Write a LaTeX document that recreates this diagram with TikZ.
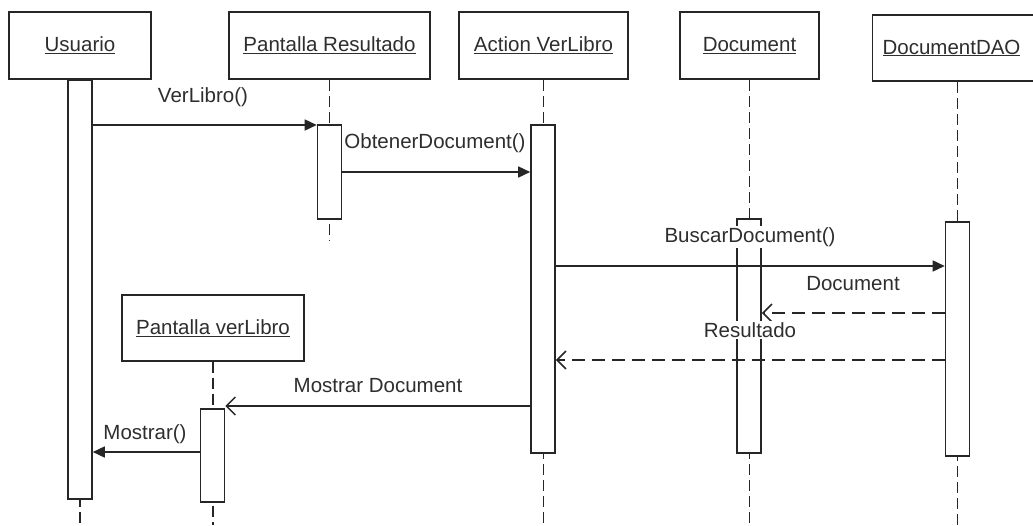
\documentclass[tikz,border=0pt]{standalone}
\usepackage{fontspec}
\setmainfont{Liberation Sans}
\usetikzlibrary{arrows.meta}
\definecolor{ink}{HTML}{262626}
\definecolor{txt}{HTML}{2E2E2E}
\begin{document}
\begin{tikzpicture}[x=1pt,y=-1pt,
  every node/.style={font=\fontsize{20.5}{24}\selectfont, text=txt},
  obj/.style={draw=ink, line width=1.6pt, fill=white, minimum height=67pt, inner sep=0pt},
  act/.style={draw=ink, line width=1.6pt, fill=white, minimum width=24pt, inner sep=0pt, anchor=north},
  life/.style={draw=ink, line width=1.6pt, dash pattern=on 11pt off 5pt},
  call/.style={draw=ink, line width=1.6pt, -{Triangle[length=12pt,width=11pt]}},
  callopen/.style={draw=ink, line width=1.5pt, -{Straight Barb[length=9pt,width=18pt]}},
  ret/.style={draw=ink, line width=1.6pt, dash pattern=on 13pt off 7pt, -{Straight Barb[length=9pt,width=18pt]}},
  lbl/.style={inner sep=1pt},
  wlbl/.style={inner sep=1pt, fill=white}]
\clip (0,0) rectangle (1033,525);
\fill[white] (0,0) rectangle (1033,525);

% objects
\node[obj, minimum width=142pt] (usuario) at (80,45.5) {\underline{Usuario}};
\node[obj, minimum width=201pt] (pres) at (329.5,45.5) {\underline{Pantalla Resultado}};
\node[obj, minimum width=169pt] (action) at (543.5,45.5) {\underline{Action VerLibro}};
\node[obj, minimum width=139pt] (doc) at (749.5,45.5) {\underline{Document}};
\node[obj, minimum width=170pt, minimum height=66pt] (dao) at (957.5,48) {\hspace*{-6pt}\underline{DocumentDAO}\hspace*{6pt}};
\node[obj, minimum width=182pt, minimum height=66pt] (pver) at (213,328) {\underline{Pantalla verLibro}};

% lifelines
\draw[life] (usuario.south) -- (usuario.south |- 0,525);
\draw[life] (pres.south) -- (pres.south |- 0,240);
\draw[life] (action.south) -- (action.south |- 0,525);
\draw[life] (doc.south) -- (doc.south |- 0,525);
\draw[life] (dao.south) -- (dao.south |- 0,525);
\draw[life] (pver.south) -- (pver.south |- 0,525);

% activations
\node[act, minimum height=419pt] (aU) at (80,79) {};
\node[act, minimum height=94pt] (aPR) at (329.5,124) {};
\node[act, minimum height=328pt] (aAV) at (543,124) {};
\node[act, minimum height=234pt] (aD) at (749,218) {};
\node[act, minimum height=234pt] (aDAO) at (957.5,221) {};
\node[act, minimum height=93pt] (aPV) at (212.5,408) {};

% messages
\draw[call] (aU.east |- 0,125) -- (aPR.west |- 0,125);
\draw[call] (aPR.east |- 0,172) -- (aAV.west |- 0,172);
\draw[call] (aAV.east |- 0,266) -- (aDAO.west |- 0,266);
\draw[ret] (aDAO.west |- 0,313) -- (aD.east |- 0,313);
\draw[ret] (aDAO.west |- 0,360) -- (aAV.east |- 0,360);
\draw[callopen] (aAV.west |- 0,406) -- (aPV.east |- 0,406);
\draw[call] (aPV.west |- 0,452) -- (aU.east |- 0,452);

% labels
\node[lbl] (l1) at (203,97) {VerLibro()};
\node[lbl] (l2) at (435,143) {ObtenerDocument()};
\node[wlbl] (l3) at (750,237) {BuscarDocument()};
\node[lbl] (l4) at (853,284) {Document};
\node[wlbl] (l5) at (750,330) {Resultado};
\node[lbl] (l6) at (378,386) {Mostrar Document};
\node[lbl] (l7) at (145,434) {Mostrar()};
\end{tikzpicture}
\end{document}
